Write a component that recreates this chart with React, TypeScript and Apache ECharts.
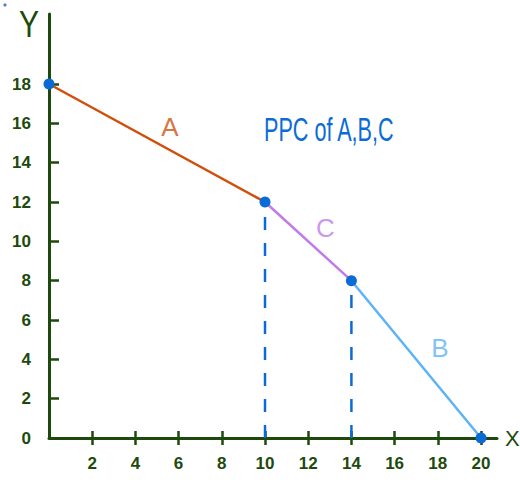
import { useEffect, useRef } from "react";
import * as echarts from "echarts";

// Production possibility frontier built from three linear segments
const xTickValues = [2, 4, 6, 8, 10, 12, 14, 16, 18, 20];
const yTickValues = [2, 4, 6, 8, 10, 12, 14, 16, 18];
const yLabelValues = [0, 2, 4, 6, 8, 10, 12, 14, 16, 18];

const segmentA = [[0, 18], [10, 12]];
const segmentC = [[10, 12], [14, 8]];
const segmentB = [[14, 8], [20, 0]];
const cornerPoints = [[0, 18], [10, 12], [14, 8], [20, 0]];
const dropAt10 = [[10, 0], [10, 12]];
const dropAt14 = [[14, 0], [14, 8]];

const segmentNames = ["A", "C", "B"];
const segmentNameSpots = [[5.6, 15.8], [12.8, 10.7], [18.1, 4.6]];

const AXIS = "#1d4a0c";
const ORANGE = "#cf4f0b";
const VIOLET = "#c07be8";
const LIGHTBLUE = "#5cb3f7";
const BLUE = "#0b6bd6";
const FONT = "'Liberation Sans', 'DejaVu Sans', sans-serif";

export default function App() {
  const ref = useRef<HTMLDivElement>(null);

  useEffect(() => {
    document.body.style.margin = "0";
    if (!ref.current) return;
    const chart = echarts.init(ref.current, null, { renderer: "svg" });

    const lineSeries = (data: number[][], color: string) => ({
      type: "line",
      data,
      symbol: "none",
      silent: true,
      z: 3,
      lineStyle: { color, width: 2.5 },
    });
    const dashSeries = (data: number[][]) => ({
      type: "line",
      data,
      symbol: "none",
      silent: true,
      z: 2,
      lineStyle: { color: BLUE, width: 2.5, type: [13, 13] },
    });

    chart.setOption({
      animation: false,
      backgroundColor: "#ffffff",
      grid: { left: 49, right: 23, top: 14, bottom: 47, containLabel: false },
      xAxis: [
        {
          type: "value",
          min: 0,
          max: 20.74,
          splitLine: { show: false },
          axisLine: { lineStyle: { color: AXIS, width: 3 } },
          axisTick: {
            inside: false,
            length: 7,
            customValues: xTickValues,
            lineStyle: { color: AXIS, width: 2.5 },
          },
          axisLabel: {
            customValues: xTickValues,
            margin: 17,
            color: AXIS,
            fontSize: 17,
            fontWeight: "bold",
            fontFamily: FONT,
          },
        },
        {
          type: "value",
          min: 0,
          max: 20.74,
          position: "bottom",
          splitLine: { show: false },
          axisLine: { show: false },
          axisTick: {
            inside: true,
            length: 7,
            customValues: xTickValues,
            lineStyle: { color: AXIS, width: 2.5 },
          },
          axisLabel: { show: false },
        },
      ],
      yAxis: {
        type: "value",
        min: 0,
        max: 21.56,
        splitLine: { show: false },
        axisLine: { show: true, lineStyle: { color: AXIS, width: 3 } },
        axisTick: {
          show: true,
          inside: true,
          length: 10,
          customValues: yTickValues,
          lineStyle: { color: AXIS, width: 2.5 },
        },
        axisLabel: {
          customValues: yLabelValues,
          margin: 18,
          color: AXIS,
          fontSize: 17,
          fontWeight: "bold",
          fontFamily: FONT,
        },
      },
      graphic: [
        {
          type: "text",
          x: 264,
          y: 114,
          scaleX: 0.9,
          scaleY: 1.35,
          style: { text: "PPC of A,B,C", fill: BLUE, fontSize: 24, fontFamily: FONT },
        },
        {
          type: "text",
          x: 19,
          y: 6,
          scaleY: 1.2,
          style: { text: "Y", fill: AXIS, fontSize: 30, fontFamily: FONT },
        },
        {
          type: "text",
          x: 505,
          y: 427,
          style: { text: "X", fill: AXIS, fontSize: 22, fontFamily: FONT },
        },
        {
          type: "circle",
          shape: { cx: 5, cy: 5, r: 1.6 },
          style: { fill: "#4d7fd4" },
        },
      ],
      series: [
        dashSeries(dropAt10),
        dashSeries(dropAt14),
        lineSeries(segmentA, ORANGE),
        lineSeries(segmentC, VIOLET),
        lineSeries(segmentB, LIGHTBLUE),
        {
          type: "scatter",
          data: cornerPoints,
          symbolSize: 11,
          z: 5,
          silent: true,
          itemStyle: { color: BLUE, opacity: 1 },
        },
        {
          type: "scatter",
          symbolSize: 0,
          silent: true,
          z: 4,
          data: segmentNames.map((name, i) => ({
            value: segmentNameSpots[i],
            label: {
              show: true,
              position: "inside",
              formatter: name,
              color: [ORANGE, VIOLET, LIGHTBLUE][i],
              fontSize: 26,
              fontFamily: FONT,
            },
          })),
        },
      ],
    });

    return () => chart.dispose();
  }, []);

  return <div ref={ref} style={{ width: 520, height: 485 }} />;
}
